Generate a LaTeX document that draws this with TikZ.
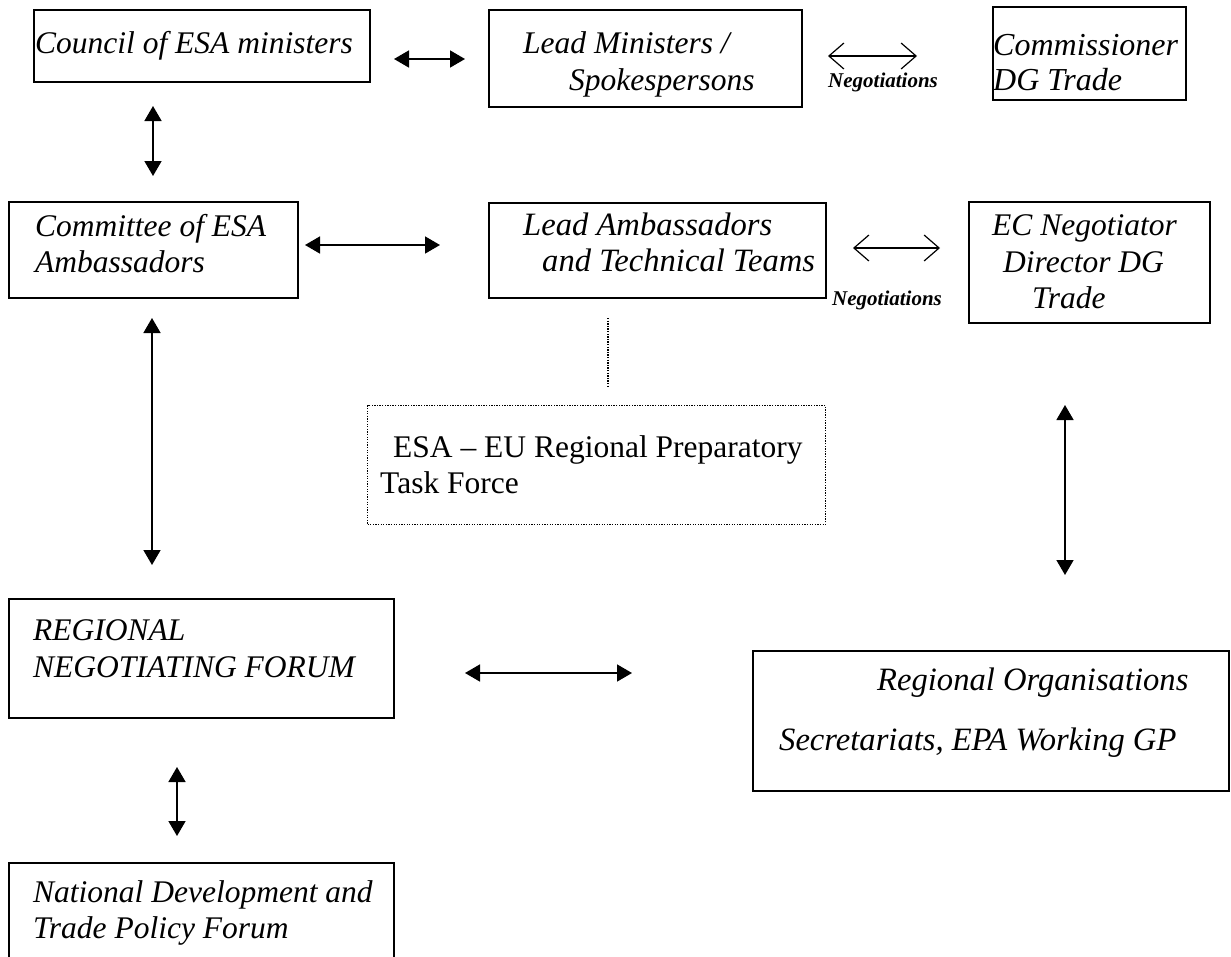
\documentclass[tikz,border=0pt]{standalone}
\usepackage{fontspec}
\setmainfont{Liberation Serif}
\usetikzlibrary{arrows.meta}
\tikzset{
  boxed/.style={draw, line width=1.6pt, anchor=north west, inner sep=0pt},
  dotbox/.style={draw, line width=1.1pt, dash pattern=on 1.3pt off 1.3pt, anchor=north west, inner sep=0pt},
  txt/.style={anchor=base west, inner sep=0pt, font=\fontsize{31.5}{36}\selectfont\itshape},
  bigtxt/.style={anchor=base west, inner sep=0pt, font=\fontsize{32.6}{37}\selectfont\itshape},
  comtxt/.style={anchor=base west, inner sep=0pt, font=\fontsize{32}{36}\selectfont\itshape},
  rtxt/.style={anchor=base west, inner sep=0pt, font=\fontsize{31.5}{36}\selectfont},
  negtxt/.style={anchor=base west, inner sep=0pt, font=\fontsize{21}{24}\selectfont\bfseries\itshape},
  link/.style={line width=1.6pt, {Triangle[length=15pt,width=17pt]}-{Triangle[length=15pt,width=17pt]}},
  neglink/.style={line width=1.2pt, {Straight Barb[length=15pt,width=26pt,line width=1.2pt]}-{Straight Barb[length=15pt,width=26pt,line width=1.2pt]}},
  dotlink/.style={line width=1.1pt, dash pattern=on 1.3pt off 1.3pt}
}
\begin{document}
\begin{tikzpicture}[x=1pt,y=-1pt]
\useasboundingbox (0,0) rectangle (1231,956);
\clip (0,0) rectangle (1231,956);
\fill[white] (0,0) rectangle (1231,956);

% boxes
\node[boxed, minimum width=336pt, minimum height=72pt] (council) at (33,9) {};
\node[boxed, minimum width=313pt, minimum height=97pt] (leadmin) at (488,9) {};
\node[boxed, minimum width=193pt, minimum height=93pt] (commis) at (992,6) {};
\node[boxed, minimum width=289pt, minimum height=96pt] (committee) at (8,201) {};
\node[boxed, minimum width=337pt, minimum height=95pt] (leadamb) at (488,202) {};
\node[boxed, minimum width=241pt, minimum height=121pt] (ecneg) at (968,201) {};
\node[dotbox, minimum width=458pt, minimum height=119pt] (taskforce) at (367,405) {};
\node[boxed, minimum width=385pt, minimum height=119pt] (rnf) at (8,598) {};
\node[boxed, minimum width=476pt, minimum height=140pt] (regorg) at (752,650) {};
\node[boxed, minimum width=385pt, minimum height=110pt] (national) at (8,862) {};

% texts
\node[txt] (council-t) at (35,53) {Council of ESA ministers};
\node[txt] (leadmin-t1) at (523,53) {Lead Ministers /};
\node[txt] (leadmin-t2) at (569,90) {Spokespersons};
\node[comtxt] (commis-t1) at (993,55) {Commissioner};
\node[comtxt] (commis-t2) at (993,90) {DG Trade};
\node[negtxt] (neg1) at (828,87) {Negotiations};
\node[txt] (committee-t1) at (35,236) {Committee of ESA};
\node[txt] (committee-t2) at (35,272) {Ambassadors};
\node[bigtxt] (leadamb-t1) at (523,235) {Lead Ambassadors};
\node[bigtxt] (leadamb-t2) at (542,271) {and Technical Teams};
\node[negtxt] (neg2) at (832,305) {Negotiations};
\node[txt] (ecneg-t1) at (992,235) {EC Negotiator};
\node[txt] (ecneg-t2) at (1003,272) {Director DG};
\node[txt] (ecneg-t3) at (1032,308) {Trade};
\node[rtxt] (taskforce-t1) at (393,457) {ESA -- EU Regional Preparatory};
\node[rtxt] (taskforce-t2) at (380,493) {Task Force};
\node[txt] (rnf-t1) at (33,640) {REGIONAL};
\node[txt] (rnf-t2) at (33,677) {NEGOTIATING FORUM};
\node[bigtxt] (regorg-t1) at (877,690) {Regional Organisations};
\node[bigtxt] (regorg-t2) at (779,750) {Secretariats, EPA Working GP};
\node[txt] (national-t1) at (33,902) {National Development and};
\node[txt] (national-t2) at (33,938) {Trade Policy Forum};

% connector end points
\coordinate (a1s) at (394,59);  \coordinate (a1e) at (465,59);
\coordinate (n1s) at (828,56);  \coordinate (n1e) at (917,56);
\coordinate (a2s) at (153,106); \coordinate (a2e) at (153,176);
\coordinate (a3s) at (305,245); \coordinate (a3e) at (440,245);
\coordinate (n2s) at (853,248); \coordinate (n2e) at (940,248);
\coordinate (d1s) at (608,318); \coordinate (d1e) at (608,388);
\coordinate (a4s) at (152,318); \coordinate (a4e) at (152,565);
\coordinate (a5s) at (1065,405); \coordinate (a5e) at (1065,575);
\coordinate (a6s) at (465,673); \coordinate (a6e) at (632,673);
\coordinate (a7s) at (177,767); \coordinate (a7e) at (177,836);

% connectors
\draw[link] (a1s) -- (a1e);
\draw[neglink] (n1s) -- (n1e);
\draw[link] (a2s) -- (a2e);
\draw[link] (a3s) -- (a3e);
\draw[neglink] (n2s) -- (n2e);
\draw[dotlink] (d1s) -- (d1e);
\draw[link] (a4s) -- (a4e);
\draw[link] (a5s) -- (a5e);
\draw[link] (a6s) -- (a6e);
\draw[link] (a7s) -- (a7e);
\end{tikzpicture}
\end{document}
